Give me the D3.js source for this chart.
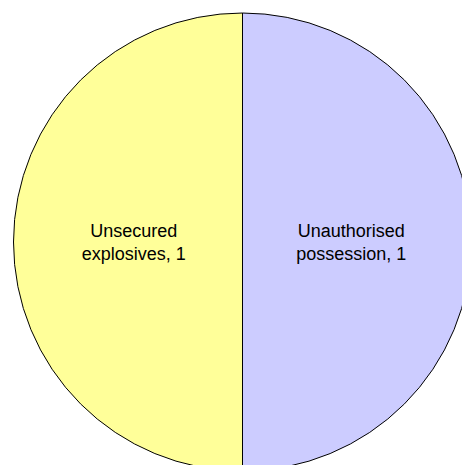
<!DOCTYPE html>
<html>
<head>
<meta charset="utf-8">
<script src="https://cdn.jsdelivr.net/npm/d3@7"></script>
<style>
  html, body { margin: 0; padding: 0; background: #fff; }
  svg { display: block; }
  .label { font-family: "Liberation Sans", Arial, sans-serif; font-size: 18px; fill: #000; }
</style>
</head>
<body>
<svg id="chart" width="462" height="465"></svg>
<script>
const categories = ['Unauthorised possession', 'Unsecured explosives']
const labelLines = [['Unauthorised', 'possession, 1'], ['Unsecured', 'explosives, 1']]
const values = [1, 1]
const colors = ['#ccccff', '#ffff99']

const svg = d3.select('#chart')

const cx = 242.5
const cy = 242
const radius = 229

const pie = d3.pie()
    .sort(null)
    .value(d => d.value)

const arc = d3.arc()
    .innerRadius(0)
    .outerRadius(radius)

const labelArc = d3.arc()
    .innerRadius(radius * 0.95)
    .outerRadius(radius * 0)

const data = categories.map((c, i) => ({ category: c, value: values[i], lines: labelLines[i], color: colors[i] }))
const arcs = pie(data)

const g = svg.append('g')
    .attr('transform', `translate(${cx},${cy})`)

g.selectAll('path.slice')
  .data(arcs)
  .join('path')
    .attr('class', 'slice')
    .attr('d', arc)
    .attr('fill', d => d.data.color)
    .attr('stroke', '#000')
    .attr('stroke-width', 1)

const labels = g.selectAll('text.label')
  .data(arcs)
  .join('text')
    .attr('class', 'label')
    .attr('text-anchor', 'middle')
    .attr('transform', d => {
      const [x, y] = labelArc.centroid(d)
      return `translate(${x},${y})`
    })

labels.selectAll('tspan')
  .data(d => d.data.lines.map((t, i, a) => ({ t, i, n: a.length })))
  .join('tspan')
    .attr('x', 0)
    .attr('y', d => (d.i - (d.n - 1) / 2) * 23 + 6)
    .text(d => d.t)
</script>
</body>
</html>
